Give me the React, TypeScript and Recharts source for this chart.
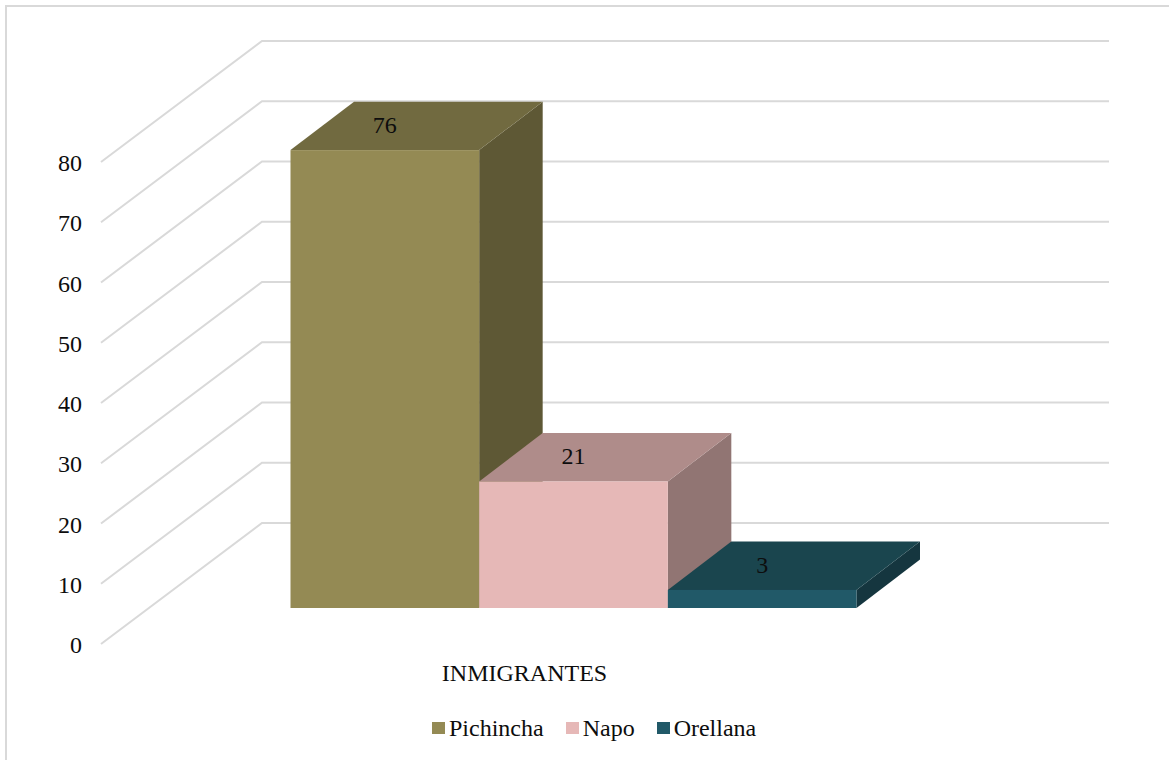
import { BarChart, Bar, XAxis, YAxis, CartesianGrid, Legend, LabelList } from 'recharts';

const categories = ['INMIGRANTES'];
const seriesNames = ['Pichincha', 'Napo', 'Orellana'];
const pichincha = [76];
const napo = [21];
const orellana = [3];
const yTicks = [0, 10, 20, 30, 40, 50, 60, 70, 80];

const frontColors = ['#948A54', '#E6B8B7', '#215968'];
const topColors = ['#716A40', '#AF8C8A', '#1A454E'];
const sideColors = ['#5E5835', '#917573', '#15363F'];

const data = categories.map((name, i) => ({
  name,
  Pichincha: pichincha[i],
  Napo: napo[i],
  Orellana: orellana[i],
}));

const FONT = '"Liberation Serif", "Times New Roman", serif';
const TEXT = '#0D0D0D';
const GRID = '#D9D9D9';

// fake 3D: how far the box depth goes, and where the walls sit against the bar plane
const BOX_DX = 63.5;
const BOX_DY = -48.4;
const WALL_LEFT = -49.5;
const WALL_BACK_X = 111.5;
const WALL_FRONT_Y = 36;
const WALL_BACK_Y = -85;

function WallLine(props: any) {
  const { x1, x2, y1 } = props;
  const points = [
    [x1 + WALL_LEFT, y1 + WALL_FRONT_Y],
    [x1 + WALL_BACK_X, y1 + WALL_BACK_Y],
    [x2 + WALL_BACK_X, y1 + WALL_BACK_Y],
  ];
  return <polyline points={points.join(' ')} fill="none" stroke={GRID} strokeWidth={2} />;
}

function YTick(props: any) {
  const { y, payload } = props;
  return (
    <text x={82} y={y + 45} textAnchor="end" fontFamily={FONT} fontSize={24} fill={TEXT}>
      {payload.value}
    </text>
  );
}

function XTick(props: any) {
  const { x, y, payload } = props;
  return (
    <text x={x + WALL_LEFT} y={y + 73} textAnchor="middle" fontFamily={FONT} fontSize={24} fill={TEXT}>
      {payload.value}
    </text>
  );
}

function makeBox(index: number) {
  return function Box(props: any) {
    const { x, y, width, height } = props;
    const r = x + width;
    const b = y + height;
    const top = [[x, y], [x + BOX_DX, y + BOX_DY], [r + BOX_DX, y + BOX_DY], [r, y]];
    const side = [[r, y], [r + BOX_DX, y + BOX_DY], [r + BOX_DX, b + BOX_DY], [r, b]];
    return (
      <g>
        <polygon points={side.join(' ')} fill={sideColors[index]} />
        <polygon points={top.join(' ')} fill={topColors[index]} />
        <rect x={x} y={y} width={width} height={height} fill={frontColors[index]} />
      </g>
    );
  };
}

function LegendRow(props: any) {
  const gaps = [22, 22, 0];
  return (
    <div style={{ display: 'flex', height: 30, alignItems: 'center', fontFamily: FONT, fontSize: 24, color: TEXT, whiteSpace: 'nowrap' }}>
      {props.payload.map((item: any, i: number) => (
        <div key={item.value} style={{ display: 'flex', alignItems: 'center', marginRight: gaps[i] }}>
          <span style={{ width: 13, height: 12, marginRight: 4, background: item.color, display: 'inline-block' }} />
          {item.value}
        </div>
      ))}
    </div>
  );
}

export default function App() {
  return (
    <div style={{ position: 'absolute', left: 0, top: 0, width: 1169, height: 760, overflow: 'hidden', background: '#fff' }}>
      <div style={{ position: 'absolute', left: 5, top: 5, width: 1164, height: 755, boxSizing: 'border-box', borderLeft: `2px solid ${GRID}`, borderTop: `2px solid ${GRID}` }} />
      <div style={{ position: 'absolute', left: 0, top: 0 }}>
        <BarChart
          width={1169}
          height={760}
          data={data}
          barSize={188.67}
          barGap={0}
          margin={{ top: 126, right: 171.5, left: 90.5, bottom: 92 }}
        >
          <CartesianGrid vertical={false} horizontal={WallLine} />
          <XAxis dataKey="name" height={30} axisLine={false} tickLine={false} tickSize={0} tickMargin={0} tick={XTick} />
          <YAxis width={60} domain={[0, 80]} ticks={yTicks} interval={0} axisLine={false} tickLine={false} tick={YTick} />
          <Legend
            verticalAlign="bottom"
            height={30}
            content={LegendRow}
            itemSorter={null}
            wrapperStyle={{ left: 432, top: 713, bottom: 'auto', width: 'auto' }}
          />
          {seriesNames.map((name, i) => (
            <Bar key={name} dataKey={name} fill={frontColors[i]} shape={makeBox(i)} isAnimationActive={false}>
              <LabelList dataKey={name} position="top" offset={17} fontFamily={FONT} fontSize={24} fill={TEXT} />
            </Bar>
          ))}
        </BarChart>
      </div>
    </div>
  );
}
